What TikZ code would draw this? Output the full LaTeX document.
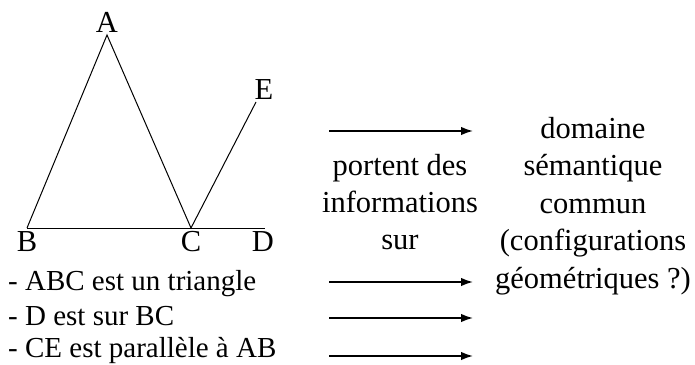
\documentclass[tikz,border=0pt]{standalone}
\usepackage{fontspec}
\setmainfont{Liberation Serif}
\usetikzlibrary{arrows.meta}
\begin{document}
\begin{tikzpicture}[x=1pt,y=-1pt,
  txt/.style={font=\fontsize{30.5}{37}\selectfont, inner sep=0pt, anchor=base},
  ltxt/.style={txt, font=\fontsize{29}{35}\selectfont, anchor=base west},
  seg/.style={line width=1pt},
  arr/.style={line width=1.6pt,-{Latex[length=12pt,width=8.5pt]}}]
\useasboundingbox (0,0) rectangle (695,364);
% figure
\coordinate (A) at (107,35);
\coordinate (B) at (27,228);
\coordinate (C) at (191,228);
\coordinate (D) at (265,228);
\coordinate (E) at (256,102);
\draw[seg] (B) -- (A) -- (C) -- (E);
\draw[seg] (B) -- (D);
\node[txt] (lA) at (107,32) {A};
\node[txt] (lB) at (27,251) {B};
\node[txt] (lC) at (191,251) {C};
\node[txt] (lD) at (263,251) {D};
\node[txt] (lE) at (264,99) {E};
% middle text
\node[txt] (m1) at (400,175) {portent des};
\node[txt] (m2) at (400,212) {informations};
\node[txt] (m3) at (400,249) {sur};
% right text
\node[txt] (r1) at (593,138) {domaine};
\node[txt] (r2) at (593,175.5) {sémantique};
\node[txt] (r3) at (593,213) {commun};
\node[txt] (r4) at (593,250.5) {(configurations};
\node[txt] (r5) at (593,288) {géométriques ?)};
% left list
\node[ltxt] (l1) at (8,290) {- ABC est un triangle};
\node[ltxt] (l2) at (8,325) {- D est sur BC};
\node[ltxt] (l3) at (8,357) {- CE est parallèle à AB};
% arrows
\coordinate (a0s) at (329,131); \coordinate (a0e) at (473,131);
\coordinate (a1s) at (329,282); \coordinate (a1e) at (473,282);
\coordinate (a2s) at (329,318); \coordinate (a2e) at (473,318);
\coordinate (a3s) at (329,356); \coordinate (a3e) at (473,356);
\draw[arr] (a0s) -- (a0e);
\draw[arr] (a1s) -- (a1e);
\draw[arr] (a2s) -- (a2e);
\draw[arr] (a3s) -- (a3e);
\end{tikzpicture}
\end{document}
